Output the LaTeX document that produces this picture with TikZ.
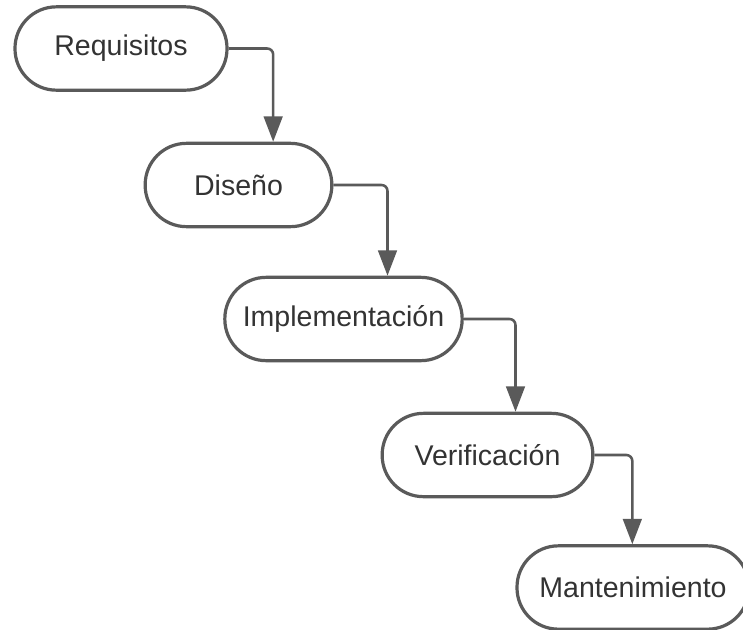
\documentclass[tikz,border=0pt]{standalone}
\usepackage{fontspec}
\setmainfont{Liberation Sans}
\usetikzlibrary{arrows.meta}
\definecolor{edge}{HTML}{5A5A5A}
\definecolor{txt}{HTML}{333333}
\begin{document}
\begin{tikzpicture}[x=0.75pt,y=-0.75pt,
  stage/.style={draw=edge, line width=2.4pt, fill=white, rounded corners=31pt,
    minimum height=62.5pt, text=txt, font=\fontsize{21.4pt}{25pt}\selectfont, inner sep=0pt},
  conn/.style={draw=edge, line width=1.9pt, rounded corners=4.5pt,
    -{Triangle[length=19pt,width=14pt]}}]
\useasboundingbox (0,0) rectangle (743,629);
\fill[white] (0,0) rectangle (743,629);
\node[stage, minimum width=159pt] (req) at (121,48.5) {Requisitos};
\node[stage, minimum width=140pt] (dis) at (238.5,185) {Diseño};
\node[stage, minimum width=178pt] (imp) at (343.5,319) {Implementación};
\node[stage, minimum width=158pt] (ver) at (487.5,455) {Verificación};
\node[stage, minimum width=174pt] (man) at (633,587.5) {Mantenimiento};
\draw[conn] (req.east) -| ([xshift=26pt]dis.north);
\draw[conn] (dis.east) -| ([xshift=33pt]imp.north);
\draw[conn] (imp.east) -| ([xshift=21pt]ver.north);
\draw[conn] (ver.east) -| ([xshift=-0.5pt]man.north);
\end{tikzpicture}
\end{document}
